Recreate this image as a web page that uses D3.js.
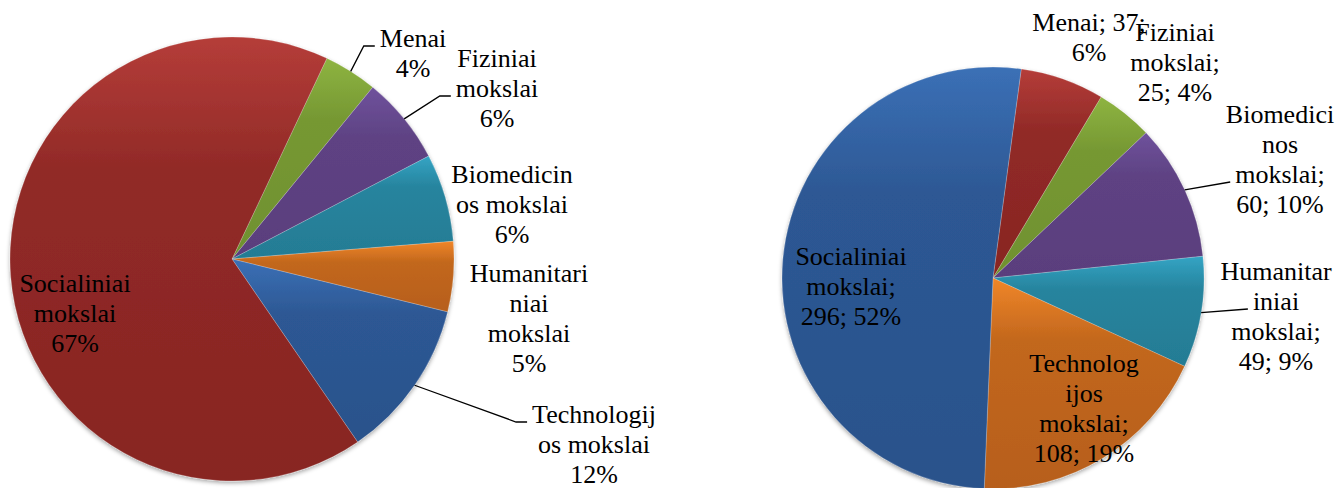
<!DOCTYPE html>
<html>
<head>
<meta charset="utf-8">
<script src="https://cdn.jsdelivr.net/npm/d3@7"></script>
<style>
  body { margin: 0; background: #fff; }
  svg { display: block; }
</style>
</head>
<body>
<div id="chart"></div>
<script>
// --- data ---
const categoriesLeft = ["Menai", "Fiziniai mokslai", "Biomedicinos mokslai",
  "Humanitariniai mokslai", "Technologijos mokslai", "Socialiniai mokslai"];
const valuesLeft = [3.9, 6.4, 6.4, 5.1, 11.6, 66.6];

const categoriesRight = ["Menai", "Fiziniai mokslai", "Biomedicinos mokslai",
  "Humanitariniai mokslai", "Technologijos mokslai", "Socialiniai mokslai"];
const valuesRight = [37, 25, 60, 49, 108, 296];

// --- styles / layout ---
const palette = {
  blue:   ["#3b70b6", "#2a528b"],
  red:    ["#b53d39", "#882522"],
  green:  ["#8eb441", "#70912f"],
  purple: ["#6f529c", "#5a3e7d"],
  teal:   ["#33a4c4", "#247c94"],
  orange: ["#f08629", "#b75f1a"]
};
const colorsLeft  = ["green", "purple", "teal", "orange", "blue", "red"];
const colorsRight = ["red", "green", "purple", "teal", "orange", "blue"];

// first-line anchor of each label, relative to the pie centre
const labelPosLeft  = [[181, -212], [265, -192], [280, -76], [297, 23], [362, 164], [-157, 33]];
const labelPosRight = [[96, -247], [182, -237], [287, -155], [283, 2], [91, 94], [-142, -13]];
// which label row a leader line points at (null = no leader)
const leaderRowLeft  = [0, 1, null, null, 0, null];
const leaderRowRight = [null, null, 2, 1, null, null];

const width = 1337, height = 488;
const fontFamily = '"Liberation Serif", "Times New Roman", Tinos, serif';
const fontSize = 26, lineH = 30;

const svg = d3.select("#chart").append("svg")
    .attr("width", width)
    .attr("height", height);

const defs = svg.append("defs");
const shadow = defs.append("filter").attr("id", "shadow")
    .attr("x", "-10%").attr("y", "-10%").attr("width", "120%").attr("height", "120%");
shadow.append("feDropShadow")
    .attr("dx", 0).attr("dy", 2).attr("stdDeviation", 2.2)
    .attr("flood-color", "#000").attr("flood-opacity", 0.35);

Object.entries(palette).forEach(([name, c]) => {
  const g = defs.append("linearGradient").attr("id", "g-" + name)
      .attr("x1", 0).attr("y1", 0).attr("x2", 0).attr("y2", 1);
  g.append("stop").attr("offset", 0).attr("stop-color", c[0]);
  g.append("stop").attr("offset", 0.3).attr("stop-color", d3.interpolateRgb(c[0], c[1])(0.8));
  g.append("stop").attr("offset", 1).attr("stop-color", c[1]);
});

// text measuring
const meas = svg.append("text")
    .style("font-family", fontFamily)
    .style("font-size", fontSize + "px")
    .attr("visibility", "hidden");
function measure(s) { meas.text(s); return meas.node().getComputedTextLength(); }

// Excel-like wrapping (breaks long words)
function wrap(str, maxW) {
  const lines = [];
  str.split("\n").forEach(par => {
    let line = "";
    par.split(" ").forEach(word => {
      const test = line ? line + " " + word : word;
      if (measure(test) <= maxW) { line = test; return; }
      if (line) { lines.push(line); line = ""; }
      while (measure(word) > maxW) {
        let k = word.length;
        while (k > 1 && measure(word.slice(0, k)) > maxW) k--;
        lines.push(word.slice(0, k));
        word = word.slice(k);
      }
      line = word;
    });
    lines.push(line);
  });
  return lines;
}

// percentages that add up to 100 (largest remainder)
function percents(values) {
  const sum = d3.sum(values);
  const raw = values.map(v => v / sum * 100);
  const out = raw.map(Math.floor);
  let left = 100 - d3.sum(out);
  raw.map((r, i) => [r - Math.floor(r), i])
     .sort((a, b) => b[0] - a[0])
     .slice(0, left)
     .forEach(([, i]) => out[i] += 1);
  return out;
}

function drawPie(cfg) {
  const pct = percents(cfg.values);
  const data = cfg.categories.map((c, i) => ({
    name: c, value: cfg.values[i], pct: pct[i], color: cfg.colors[i],
    pos: cfg.labelPos[i], leader: cfg.leaderRow[i]
  }));

  const a0 = cfg.start * Math.PI / 180;
  const pie = d3.pie().sort(null).value(d => d.value)
      .startAngle(a0).endAngle(a0 + 2 * Math.PI);
  const arcs = pie(data);
  const arc = d3.arc().innerRadius(0).outerRadius(cfg.r);
  const edge = d3.arc().innerRadius(cfg.r).outerRadius(cfg.r);

  const g = svg.append("g").attr("transform", `translate(${cfg.cx},${cfg.cy})`);

  g.append("g").attr("filter", "url(#shadow)")
    .selectAll("path")
    .data(arcs)
    .join("path")
      .attr("d", arc)
      .attr("fill", d => `url(#g-${d.data.color})`)
      .attr("stroke", "rgba(255,255,255,0.35)")
      .attr("stroke-width", 0.6);

  arcs.forEach(d => {
    const lines = wrap(cfg.labelText(d.data), cfg.wrapW);
    const [lx, ly] = d.data.pos;

    const t = g.append("text")
        .style("font-family", fontFamily)
        .style("font-size", fontSize + "px")
        .attr("text-anchor", "middle")
        .attr("fill", "#000");
    lines.forEach((s, i) => {
      t.append("tspan").attr("x", lx).attr("y", ly + i * lineH).text(s);
    });

    if (d.data.leader !== null) {
      const row = d.data.leader;
      const rowLeft = lx - measure(lines[row]) / 2;
      const end = [rowLeft - 5, ly + row * lineH - 1];
      const p0 = edge.centroid(d);
      const pts = [p0];
      if (cfg.elbow) pts.push([end[0] - cfg.elbow, end[1]]);
      pts.push(end);
      g.append("path")
        .attr("d", d3.line()(pts))
        .attr("fill", "none")
        .attr("stroke", "#000")
        .attr("stroke-width", 1.3);
    }
  });
}

drawPie({
  categories: categoriesLeft, values: valuesLeft, colors: colorsLeft,
  labelPos: labelPosLeft, leaderRow: leaderRowLeft,
  cx: 232, cy: 259, r: 222, start: 25.3, wrapW: 126.8, elbow: 11,
  labelText: d => d.name + "\n" + d.pct + "%"
});

drawPie({
  categories: categoriesRight, values: valuesRight, colors: colorsRight,
  labelPos: labelPosRight, leaderRow: leaderRowRight,
  cx: 993, cy: 278, r: 211, start: 7.7, wrapW: 116, elbow: 0,
  labelText: d => d.name + "; " + d.value + "; " + d.pct + "%"
});
</script>
</body>
</html>
